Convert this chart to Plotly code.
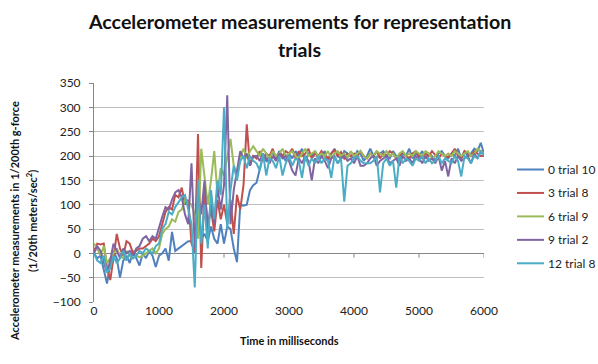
import plotly.graph_objects as go

# time axis (ms), one sample every 50 ms
time_ms = list(range(0, 6001, 50))

series_names = ["0 trial 10", "3 trial 8", "6 trial 9", "9 trial 2", "12 trial 8"]
series_colors = ["#4F81BD", "#C0504D", "#9BBB59", "#8064A2", "#4BACC6"]

trial_0_10 = [
    0, -10, -5, -35, -62, -20, 5, -10, -50, -15,
    -5, -20, 5, -10, -25, 0, -10, 5, -5, -28,
    -5, 0, 10, -15, 44, 5, 10, 15, 20, 25,
    25, 0, 100, 30, 40, 25, 55, 30, 20, 60,
    20, 55, 50, 10, -18, 100, 98, 100, 130, 140,
    145, 175, 200, 190, 200, 205, 195, 210, 200, 190,
    205, 195, 210, 200, 215, 190, 205, 200, 210, 195,
    200, 210, 190, 205, 215, 200, 195, 210, 205, 200,
    195, 210, 205, 190, 200, 215, 200, 195, 205, 210,
    200, 195, 210, 200, 190, 205, 200, 215, 195, 205,
    200, 210, 195, 205, 200, 190, 205, 210, 200, 195,
    205, 200, 215, 195, 210, 200, 205, 215, 210, 227,
    205,
]

trial_3_8 = [
    5, 20, 18, 20, -30, -55, -10, 40, 10, -5,
    25, 20, 0, 5, 10, 10, 15, 20, 30, 25,
    35, 60, 85, 95, 90, 120, 115, 135, 100, 110,
    20, 5, 245, -30, 130, 60, 90, 45, 110, 70,
    100, 60, 110, 40, 120, 90, 140, 265, 180, 200,
    195, 210, 190, 205, 200, 215, 195, 205, 200, 210,
    205, 215, 195, 210, 200, 205, 215, 195, 205, 200,
    210, 200, 195, 205, 212, 200, 208, 195, 205, 200,
    205, 198, 210, 200, 195, 205, 200, 210, 195, 205,
    200, 210, 205, 195, 200, 208, 200, 195, 205, 210,
    200, 195, 205, 200, 210, 202, 195, 205, 200, 198,
    205, 215, 200, 195, 210, 205, 200, 210, 205, 200,
    200,
]

trial_6_9 = [
    20, 10, -5, 15, -20, -10, 0, 10, -5, -10,
    5, -5, -10, -5, -8, -5, 0, 5, 10, 0,
    10, 40, 50, 55, 70, 65, 85, 90, 110, 105,
    100, 80, 30, 215, 160, 100, 150, 210, 120, 175,
    160, 195, 235, 180, 165, 200, 215, 195, 210, 220,
    210, 200, 215, 205, 195, 210, 200, 205, 215, 200,
    205, 210, 200, 195, 205, 215, 200, 205, 210, 200,
    205, 200, 210, 195, 205, 210, 200, 205, 195, 210,
    200, 205, 210, 200, 195, 205, 200, 210, 205, 200,
    210, 200, 205, 195, 205, 210, 200, 205, 200, 210,
    205, 200, 210, 205, 195, 200, 210, 205, 200, 205,
    200, 210, 205, 200, 205, 210, 200, 205, 215, 210,
    205,
]

trial_9_2 = [
    0, 15, 5, -20, -40, -15, 20, 5, -10, 10,
    0, 5, -5, 10, 15, 30, 35, 25, 35, 30,
    55, 75, 95, 90, 110, 125, 130, 115, 80, 60,
    185, 10, 120, 80, 150, 40, 110, 60, 135, 90,
    140, 325, 60, 130, 170, 210, 195, 205, 180, 200,
    200, 190, 205, 195, 185, 200, 190, 205, 195, 200,
    190, 170, 160, 195, 185, 200, 190, 150, 195, 185,
    200, 190, 175, 195, 200, 185, 195, 200, 190, 195,
    185, 200, 180, 180, 185, 195, 200, 180, 190, 195,
    200, 185, 190, 195, 180, 200, 190, 195, 185, 200,
    195, 185, 200, 190, 195, 185, 200, 170, 190, 158,
    195, 185, 200, 190, 195, 200, 185, 205, 195, 210,
    200,
]

trial_12_8 = [
    0, -15, -20, -5, -40, -30, -5, -20, -10, 5,
    -15, 0, -10, -5, 5, 0, 10, 5, 0, 15,
    20, 50, 60, 85, 80, 95, 105, 115, 120, 90,
    60, -70, 150, 20, 100, 10, 130, 70, 150, 120,
    300, 50, 130, 180, 150, 190, 200, 175, 200, 190,
    185, 170, 205, 160, 195, 190, 175, 200, 160, 185,
    200, 180, 195, 190, 155, 200, 180, 195, 185, 200,
    185, 195, 190, 155, 200, 185, 195, 106, 180, 185,
    195, 200, 190, 185, 185, 185, 190, 200, 125, 185,
    195, 180, 190, 135, 200, 185, 195, 190, 180, 195,
    190, 200, 185, 195, 185, 190, 200, 185, 195, 190,
    185, 200, 190, 158, 200, 195, 185, 200, 195, 210,
    200,
]

all_series = [trial_0_10, trial_3_8, trial_6_9, trial_9_2, trial_12_8]

x_ticks = [0, 1000, 2000, 3000, 4000, 5000, 6000]
y_ticks = [-100, -50, 0, 50, 100, 150, 200, 250, 300, 350]

FONT = "Lato, 'Open Sans', sans-serif"

fig = go.Figure()
for i, (name, vals, col) in enumerate(zip(series_names, all_series, series_colors)):
    fig.add_trace(go.Scatter(
        x=time_ms, y=vals, mode="lines", name=name,
        line=dict(color=col, width=2), showlegend=False,
    ))

# small tick marks on the horizontal axis line at y = 0
shapes = []
for t in x_ticks[1:]:
    shapes.append(dict(type="line", xref="x", yref="y", x0=t, x1=t, y0=0, y1=-9,
                       line=dict(color="#868686", width=1)))

title_font = dict(family=FONT, size=19.6, color="#111")
axis_title_font = dict(family=FONT, size=11, color="#111")

annotations = [
    dict(text="<b>Accelerometer measurements for representation</b>", xref="paper", yref="paper",
         x=0.526, y=1.279, xanchor="center", yanchor="middle", showarrow=False,
         font=title_font),
    dict(text="<b>trials</b>", xref="paper", yref="paper",
         x=0.526, y=1.151, xanchor="center", yanchor="middle", showarrow=False,
         font=title_font),
    dict(text="<b>Accelerometer measurements in 1/200th g-force</b>",
         xref="paper", yref="paper", x=-0.2026, y=0.37, xanchor="center", yanchor="middle",
         textangle=-90, showarrow=False, font=axis_title_font),
    dict(text="<b>(1/20th meters/sec<sup>2</sup>)</b>",
         xref="paper", yref="paper", x=-0.159, y=0.37, xanchor="center", yanchor="middle",
         textangle=-90, showarrow=False, font=axis_title_font),
    dict(text="<b>Time in milliseconds</b>", xref="paper", yref="paper",
         x=0.5, y=-0.175, xanchor="center", yanchor="middle", showarrow=False,
         font=axis_title_font),
]

# legend drawn as line samples + labels to the right of the plot area
PLOT_W, PLOT_H = 390.0, 219.0
for i, (name, col) in enumerate(zip(series_names, series_colors)):
    row_px = 86.5 + 23.45 * i          # distance below the plot top, px
    yp = 1 - row_px / PLOT_H
    shapes.append(dict(type="line", xref="paper", yref="paper",
                       x0=1 + 33 / PLOT_W, x1=1 + 60 / PLOT_W, y0=yp, y1=yp,
                       line=dict(color=col, width=2)))
    annotations.append(dict(text=name, xref="paper", yref="paper",
                            x=1 + 62 / PLOT_W, y=yp, xanchor="left", yanchor="middle",
                            showarrow=False, font=dict(family=FONT, size=12, color="#222")))

fig.update_layout(
    width=598, height=364,
    margin=dict(l=94, r=114, t=83, b=62, autoexpand=False),
    paper_bgcolor="white", plot_bgcolor="white",
    font=dict(family=FONT, size=12, color="#222"),
    showlegend=False,
    shapes=shapes,
    annotations=annotations,
)
fig.update_xaxes(range=[0, 6000], tickvals=x_ticks, showgrid=False, zeroline=False,
                 showline=False, ticks="", tickfont=dict(size=12, color="#222"))
fig.update_yaxes(range=[-100, 350], tickvals=y_ticks, showgrid=True, gridcolor="#BFBFBF",
                 gridwidth=1, zeroline=True, zerolinecolor="#868686", zerolinewidth=1,
                 showline=True, linecolor="#868686", linewidth=1, ticks="outside",
                 ticklen=4, tickcolor="#868686", ticklabelstandoff=6,
                 tickfont=dict(size=12, color="#222"))

# remove the default page margin and scrollbars so the figure fills the window exactly
page_fix = ("document.documentElement.style.overflow='hidden';"
            "document.body.style.margin='0';document.body.style.overflow='hidden';")

fig.write_html("out.html", post_script=page_fix, config={"displayModeBar": False})
